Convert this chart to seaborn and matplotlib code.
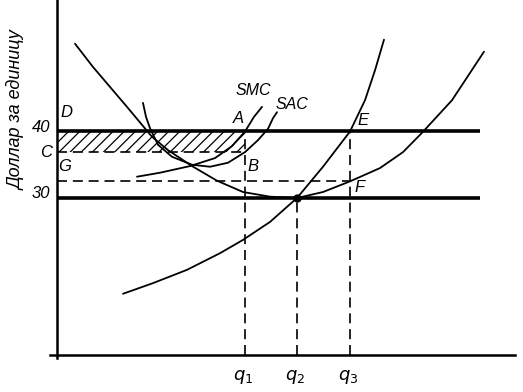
import pandas as pd
import matplotlib
matplotlib.use("Agg")
import matplotlib.pyplot as plt
import seaborn as sns

# curves: quantity q and dollars per unit p
lac_q = [1.8, 3.6, 5.3, 7.0, 8.5, 9.5, 11.1, 12.3, 13.5, 16.0, 18.6, 21.3, 24.0, 26.6, 29.3, 32.3, 34.6, 36.5, 39.5, 42.7]
lac_p = [53.2, 49.7, 46.7, 43.7, 41.0, 39.2, 37.2, 36.0, 34.8, 32.6, 30.9, 30.2, 30.0, 30.9, 32.5, 34.5, 36.9, 39.8, 44.7, 52.0]

lmc_q = [6.6, 9.6, 13.0, 16.3, 18.6, 21.3, 24.0, 26.6, 29.3, 30.8, 31.8, 32.7]
lmc_p = [15.6, 17.2, 19.2, 21.7, 23.7, 26.4, 30.0, 34.7, 40.0, 44.7, 49.2, 53.8]

sac_q = [8.6, 8.9, 9.3, 10.1, 11.5, 13.5, 15.3, 17.1, 18.8, 20.1, 21.1, 21.6, 22.0]
sac_p = [44.3, 42.2, 40.5, 38.0, 36.2, 35.0, 34.7, 35.3, 36.9, 38.7, 40.4, 42.0, 42.9]

smc_q = [8.0, 10.3, 13.3, 15.8, 17.5, 18.8, 19.7, 20.5]
smc_p = [33.2, 33.8, 34.8, 36.0, 37.8, 40.0, 42.2, 43.7]

price_levels = [40, 30]
price_labels = ["40", "30"]
p_C = 36.9
p_G = 32.5
q_marks = [18.8, 24.0, 29.3]
q_labels = ["$q_1$", "$q_2$", "$q_3$"]
q_end = 42.3
p_axis = 6.4

sns.set_theme(style="white")
plt.rcParams["font.family"] = ["Liberation Sans", "DejaVu Sans"]
plt.rcParams["mathtext.fontset"] = "dejavusans"
plt.rcParams["hatch.linewidth"] = 0.9

fig = plt.figure(figsize=(5.23, 3.92), dpi=100)
ax = fig.add_axes([0, 0, 1, 1])
ax.set_xlim(-5.7, 46.6)
ax.set_ylim(0.83, 59.77)

curves = pd.concat([
    pd.DataFrame({"q": lac_q, "p": lac_p, "curve": "LAC"}),
    pd.DataFrame({"q": lmc_q, "p": lmc_p, "curve": "LMC"}),
    pd.DataFrame({"q": sac_q, "p": sac_p, "curve": "SAC"}),
    pd.DataFrame({"q": smc_q, "p": smc_p, "curve": "SMC"}),
])
sns.lineplot(data=curves, x="q", y="p", units="curve", estimator=None, sort=False,
             color="black", lw=1.3, legend=False, ax=ax)

# price lines
for lvl in price_levels:
    ax.plot([0, q_end], [lvl, lvl], color="black", lw=2.6, solid_capstyle="butt")

# loss area
ax.fill_between([0, q_marks[0]], p_C, price_levels[0], facecolor="none",
                edgecolor="black", hatch="///", linewidth=0)

dash = dict(color="black", lw=1.2, dashes=(6, 3.5))
ax.plot([0, q_marks[0]], [p_C, p_C], **dash)
ax.plot([0, q_marks[2]], [p_G, p_G], **dash)
ax.plot([q_marks[0], q_marks[0]], [p_axis, price_levels[0]], **dash)
ax.plot([q_marks[1], q_marks[1]], [p_axis, price_levels[1]], **dash)
ax.plot([q_marks[2], q_marks[2]], [p_axis, price_levels[0]], **dash)

ax.plot([q_marks[1]], [price_levels[1]], "o", color="black", ms=5)

# axes
for s in ["top", "right"]:
    ax.spines[s].set_visible(False)
ax.spines["left"].set_position(("data", 0))
ax.spines["left"].set_bounds(5.9, 59.77)
ax.spines["bottom"].set_position(("data", p_axis))
ax.spines["bottom"].set_bounds(-0.7, 45.8)
for s in ["left", "bottom"]:
    ax.spines[s].set_linewidth(1.8)
    ax.spines[s].set_color("black")
ax.set_xticks([])
ax.set_yticks([])
ax.set_xlabel("")
ax.set_ylabel("")

txt = dict(color="black", style="italic", ha="center", va="center")
ax.text(-1.6, 40.6, price_labels[0], fontsize=12, **txt)
ax.text(-1.6, 30.7, price_labels[1], fontsize=12, **txt)
for q, lab in zip(q_marks, q_labels):
    ax.text(q - 0.2, 3.1, lab, fontsize=13, **txt)

ax.text(0.9, 42.8, "D", fontsize=12, **txt)
ax.text(-1.1, 36.9, "C", fontsize=12, **txt)
ax.text(0.8, 34.8, "G", fontsize=12, **txt)
ax.text(18.1, 41.9, "A", fontsize=12, **txt)
ax.text(19.6, 34.7, "B", fontsize=12, **txt)
ax.text(30.6, 41.7, "E", fontsize=12, **txt)
ax.text(30.3, 31.6, "F", fontsize=12, **txt)
ax.text(19.6, 46.2, "SMC", fontsize=11.5, **txt)
ax.text(23.5, 44.0, "SAC", fontsize=11.5, **txt)

ax.text(-4.0, 43.2, "Доллар за единицу", fontsize=13, rotation=90, **txt)

fig.savefig("out.png", dpi=100)
